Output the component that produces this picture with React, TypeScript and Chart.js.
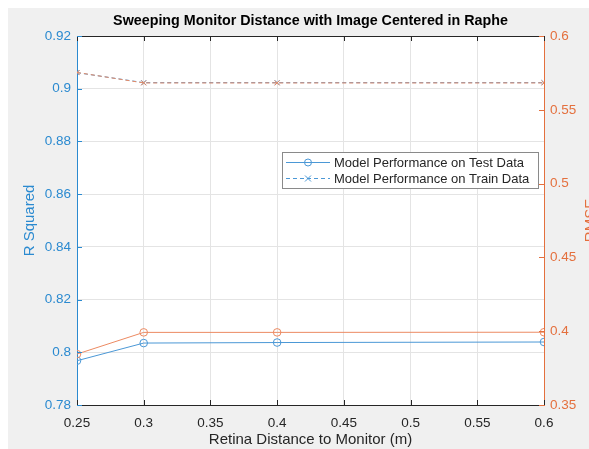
import React, { useEffect, useRef } from "react";
import { Chart, registerables } from "chart.js";

Chart.register(...registerables);

const distances = [0.25, 0.3, 0.4, 0.6];
const testR2 = [0.7968, 0.8035, 0.8037, 0.8039];
const trainR2 = [0.9061, 0.9023, 0.9023, 0.9023];
const testRMSE = [0.3845, 0.3992, 0.3992, 0.3993];
const trainRMSE = [0.5753, 0.5682, 0.5682, 0.5682];
const legendLabels = ["Model Performance on Test Data", "Model Performance on Train Data"];
const titleText = "Sweeping Monitor Distance with Image Centered in Raphe";
const xTitle = "Retina Distance to Monitor (m)";
const yLeftTitle = "R Squared";
const yRightTitle = "RMSE";

const FONT = '"Liberation Sans", Arial, Helvetica, sans-serif';
const BLUE_TXT = "#2b8ad0";
const ORANGE_TXT = "#e4703e";
const BLUE_LINE = "#4b98d6";
const ORANGE_LINE = "#ec8a62";
const DARK = "#262626";

const fmt = (v: number) => String(+Number(v).toFixed(2));

const pts = (ys: number[]) => distances.map((x, i) => ({ x, y: ys[i] }));

const decorPlugin = {
  id: "decor",
  beforeDraw(chart: any) {
    const { ctx, chartArea: a, width, height } = chart;
    ctx.save();
    ctx.fillStyle = "#f0f0f0";
    ctx.fillRect(0, 0, width, height);
    ctx.fillStyle = "#ffffff";
    ctx.fillRect(a.left, a.top, a.right - a.left, a.bottom - a.top);
    ctx.restore();
  },
  afterDraw(chart: any) {
    const { ctx, chartArea: a } = chart;
    const sx = chart.scales.x;
    const yl = chart.scales.y;
    const yr = chart.scales.y1;
    ctx.save();
    ctx.lineWidth = 1;
    ctx.strokeStyle = DARK;
    ctx.beginPath();
    ctx.moveTo(a.left, a.top + 0.5);
    ctx.lineTo(a.right, a.top + 0.5);
    ctx.stroke();
    sx.ticks.forEach((t: any) => {
      const px = Math.round(sx.getPixelForValue(t.value)) + 0.5;
      ctx.beginPath();
      ctx.moveTo(px, a.bottom);
      ctx.lineTo(px, a.bottom - 5);
      ctx.moveTo(px, a.top);
      ctx.lineTo(px, a.top + 5);
      ctx.stroke();
    });
    ctx.strokeStyle = BLUE_TXT;
    yl.ticks.forEach((t: any) => {
      const py = Math.round(yl.getPixelForValue(t.value)) + 0.5;
      ctx.beginPath();
      ctx.moveTo(a.left, py);
      ctx.lineTo(a.left + 5, py);
      ctx.stroke();
    });
    ctx.strokeStyle = ORANGE_TXT;
    yr.ticks.forEach((t: any) => {
      const py = Math.round(yr.getPixelForValue(t.value)) + 0.5;
      ctx.beginPath();
      ctx.moveTo(a.right, py);
      ctx.lineTo(a.right - 5, py);
      ctx.stroke();
    });
    ctx.fillStyle = "#000";
    ctx.font = `bold 14.3px ${FONT}`;
    ctx.textAlign = "center";
    ctx.textBaseline = "middle";
    ctx.fillText(titleText, (a.left + a.right) / 2, 13);
    ctx.font = `15px ${FONT}`;
    ctx.fillStyle = DARK;
    ctx.fillText(xTitle, (a.left + a.right) / 2, 432);
    ctx.save();
    ctx.translate(22, (a.top + a.bottom) / 2);
    ctx.rotate(-Math.PI / 2);
    ctx.fillStyle = BLUE_TXT;
    ctx.fillText(yLeftTitle, 0, 0);
    ctx.restore();
    ctx.save();
    ctx.translate(583, (a.top + a.bottom) / 2);
    ctx.rotate(-Math.PI / 2);
    ctx.fillStyle = ORANGE_TXT;
    ctx.fillText(yRightTitle, 0, 0);
    ctx.restore();
    const lx = 274, ly = 144, lw = 256, lh = 36;
    ctx.fillStyle = "#fff";
    ctx.fillRect(lx, ly, lw, lh);
    ctx.strokeStyle = "#8a8a8a";
    ctx.strokeRect(lx + 0.5, ly + 0.5, lw, lh);
    const rows = [ly + 10, ly + 26];
    ctx.strokeStyle = BLUE_LINE;
    ctx.lineWidth = 1;
    ctx.beginPath();
    ctx.moveTo(lx + 4, rows[0] + 0.5);
    ctx.lineTo(lx + 48, rows[0] + 0.5);
    ctx.stroke();
    ctx.beginPath();
    ctx.arc(lx + 26, rows[0] + 0.5, 3.5, 0, Math.PI * 2);
    ctx.stroke();
    ctx.setLineDash([4, 3]);
    ctx.beginPath();
    ctx.moveTo(lx + 4, rows[1] + 0.5);
    ctx.lineTo(lx + 48, rows[1] + 0.5);
    ctx.stroke();
    ctx.setLineDash([]);
    const cx = lx + 26, cy = rows[1] + 0.5, r = 3;
    ctx.beginPath();
    ctx.moveTo(cx - r, cy - r);
    ctx.lineTo(cx + r, cy + r);
    ctx.moveTo(cx + r, cy - r);
    ctx.lineTo(cx - r, cy + r);
    ctx.stroke();
    ctx.fillStyle = DARK;
    ctx.font = `13px ${FONT}`;
    ctx.textAlign = "left";
    ctx.fillText(legendLabels[0], lx + 52, rows[0] + 1);
    ctx.fillText(legendLabels[1], lx + 52, rows[1] + 1);
    ctx.restore();
  },
};

export default function App() {
  const ref = useRef<HTMLCanvasElement | null>(null);
  useEffect(() => {
    if (!ref.current) return;
    const tickFont = { family: FONT, size: 13.5 };
    const chart = new Chart(ref.current, {
      type: "line",
      data: {
        datasets: [
          {
            label: "Test RMSE",
            data: pts(testRMSE),
            yAxisID: "y1",
            borderColor: ORANGE_LINE,
            backgroundColor: "rgba(0,0,0,0)",
            borderWidth: 1,
            pointStyle: "circle",
            pointRadius: 3.8,
            pointBorderColor: ORANGE_LINE,
            pointBackgroundColor: "rgba(0,0,0,0)",
            pointBorderWidth: 1,
            order: 0,
          },
          {
            label: "Train RMSE",
            data: pts(trainRMSE),
            yAxisID: "y1",
            borderColor: ORANGE_LINE,
            backgroundColor: "rgba(0,0,0,0)",
            borderWidth: 1,
            borderDash: [4, 3],
            pointStyle: "crossRot",
            pointRadius: 3.5,
            pointBorderColor: ORANGE_LINE,
            pointBorderWidth: 1,
            order: 0,
          },
          {
            label: legendLabels[0],
            data: pts(testR2),
            yAxisID: "y",
            borderColor: BLUE_LINE,
            backgroundColor: "rgba(0,0,0,0)",
            borderWidth: 1,
            pointStyle: "circle",
            pointRadius: 3.8,
            pointBorderColor: BLUE_LINE,
            pointBackgroundColor: "rgba(0,0,0,0)",
            pointBorderWidth: 1,
            order: 1,
          },
          {
            label: legendLabels[1],
            data: pts(trainR2),
            yAxisID: "y",
            borderColor: BLUE_LINE,
            backgroundColor: "rgba(0,0,0,0)",
            borderWidth: 1,
            borderDash: [4, 3],
            pointStyle: "crossRot",
            pointRadius: 3.5,
            pointBorderColor: BLUE_LINE,
            pointBorderWidth: 1,
            order: 1,
          },
        ],
      },
      options: {
        responsive: false,
        animation: false,
        devicePixelRatio: 1,
        layout: { padding: { top: 28, left: 0, right: 0, bottom: 0 } },
        plugins: { legend: { display: false }, title: { display: false }, tooltip: { enabled: false } },
        scales: {
          x: {
            type: "linear",
            min: 0.25,
            max: 0.6,
            afterFit: (s: any) => { s.height = 44; },
            ticks: {
              stepSize: 0.05,
              callback: (v: any) => fmt(v),
              color: DARK,
              font: tickFont,
              padding: 10,
              maxRotation: 0,
              autoSkip: false,
            },
            grid: { color: "#e4e4e4", drawTicks: false },
            border: { display: true, color: DARK },
          },
          y: {
            type: "linear",
            position: "left",
            min: 0.78,
            max: 0.92,
            afterFit: (s: any) => { s.width = 69; },
            ticks: {
              stepSize: 0.02,
              callback: (v: any) => fmt(v),
              color: BLUE_TXT,
              font: tickFont,
              padding: 6,
            },
            grid: { color: "#e4e4e4", drawTicks: false },
            border: { display: true, color: BLUE_TXT },
          },
          y1: {
            type: "linear",
            position: "right",
            min: 0.35,
            max: 0.6,
            afterFit: (s: any) => { s.width = 45; },
            ticks: {
              stepSize: 0.05,
              callback: (v: any) => fmt(v),
              color: ORANGE_TXT,
              font: tickFont,
              padding: 6,
            },
            grid: { display: false, drawTicks: false },
            border: { display: true, color: ORANGE_TXT },
          },
        },
      },
      plugins: [decorPlugin],
    } as any);
    return () => chart.destroy();
  }, []);
  return (
    <canvas
      ref={ref}
      width={581}
      height={441}
      style={{ display: "block", position: "absolute", left: 8, top: 8 }}
    />
  );
}
